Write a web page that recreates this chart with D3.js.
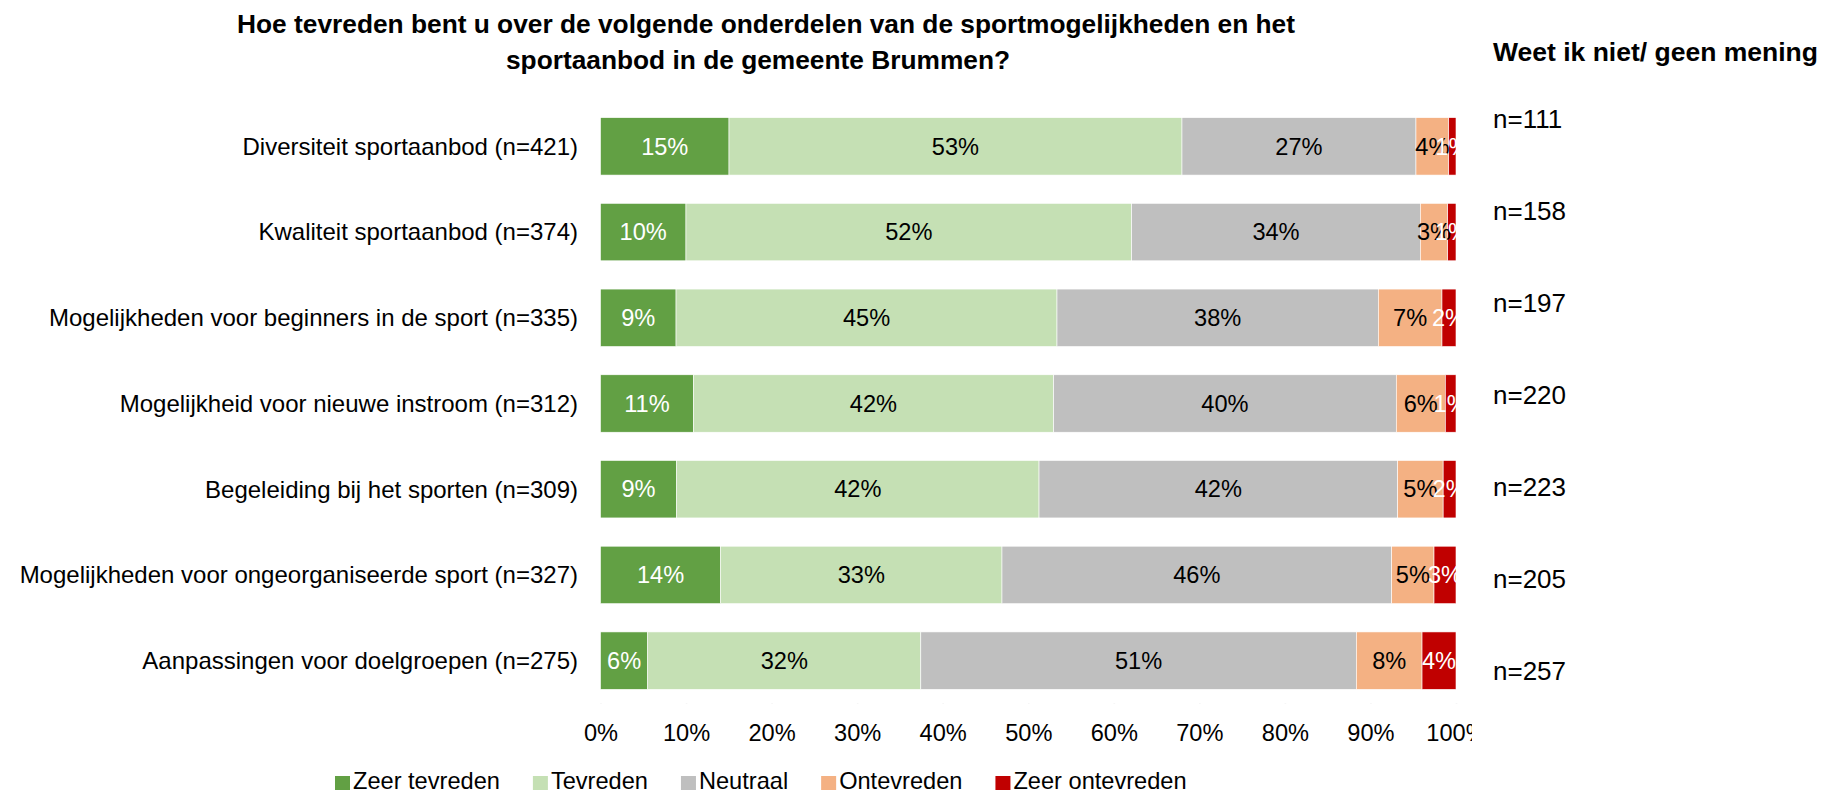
<!DOCTYPE html>
<html>
<head>
<meta charset="utf-8">
<script src="https://cdn.jsdelivr.net/npm/d3@7.9.0/dist/d3.min.js"></script>
<style>
  body { margin: 0; background: #fff; }
  svg { display: block; font-family: Arial, "Liberation Sans", sans-serif; }
</style>
</head>
<body>
<svg id="chart" width="1823" height="793"></svg>
<script>
const categories = [
  'Diversiteit sportaanbod (n=421)',
  'Kwaliteit sportaanbod (n=374)',
  'Mogelijkheden voor beginners in de sport (n=335)',
  'Mogelijkheid voor nieuwe instroom (n=312)',
  'Begeleiding bij het sporten (n=309)',
  'Mogelijkheden voor ongeorganiseerde sport (n=327)',
  'Aanpassingen voor doelgroepen (n=275)'
];
const seriesNames = ['Zeer tevreden', 'Tevreden', 'Neutraal', 'Ontevreden', 'Zeer ontevreden'];
const zeerTevreden = [15.02, 9.99, 8.83, 10.85, 8.9, 14.05, 5.52];
const tevreden = [52.95, 52.1, 44.53, 42.12, 42.36, 32.88, 31.92];
const neutraal = [27.35, 33.74, 37.56, 40.05, 41.92, 45.55, 50.91];
const ontevreden = [3.83, 3.2, 7.44, 5.73, 5.32, 4.95, 7.68];
const zeerOntevreden = [0.85, 0.97, 1.64, 1.25, 1.5, 2.57, 3.97];
const weetNiet = ['n=111', 'n=158', 'n=197', 'n=220', 'n=223', 'n=205', 'n=257'];
const tickValues = [0, 10, 20, 30, 40, 50, 60, 70, 80, 90, 100];

const colors = ['#62a044', '#c5e0b4', '#bfbfbf', '#f4b183', '#c00000'];
const labelColors = ['#fff', '#000', '#000', '#000', '#fff'];

const rows = categories.map((c, i) => ({
  category: c,
  'Zeer tevreden': zeerTevreden[i],
  'Tevreden': tevreden[i],
  'Neutraal': neutraal[i],
  'Ontevreden': ontevreden[i],
  'Zeer ontevreden': zeerOntevreden[i]
}));
const stacked = d3.stack().keys(seriesNames)(rows);

const svg = d3.select('#chart');
const fontSize = 23.6;

const x = d3.scaleLinear().domain([0, 100]).range([600.5, 1456]);
const y = d3.scaleBand().domain(categories).range([103.5, 703.5]).paddingInner(0.33).paddingOuter(0.165);

svg.append('defs').append('clipPath').attr('id', 'plotClip')
  .append('rect').attr('x', 0).attr('y', 0).attr('width', 1457).attr('height', 793);
svg.select('defs').append('clipPath').attr('id', 'axisClip')
  .append('rect').attr('x', 0).attr('y', 0).attr('width', 1472).attr('height', 793);

// grid + tick labels
const axis = svg.append('g')
  .attr('transform', 'translate(0,703.5)')
  .attr('clip-path', 'url(#axisClip)')
  .call(d3.axisBottom(x).tickValues(tickValues).tickFormat((d) => d + '%')
    .tickSizeInner(-600).tickSizeOuter(0).tickPadding(21));
axis.select('.domain').remove();
axis.selectAll('line').attr('stroke', '#d9d9d9').attr('stroke-width', 1.6);
axis.selectAll('text').attr('font-size', fontSize).attr('fill', '#000')
  .attr('font-family', 'Arial, "Liberation Sans", sans-serif');

// bars
const layer = svg.append('g').selectAll('g')
  .data(stacked)
  .join('g')
  .attr('fill', (d, i) => colors[i]);

layer.selectAll('rect')
  .data((d) => d)
  .join('rect')
  .attr('x', (d) => x(d[0]))
  .attr('y', (d) => y(d.data.category))
  .attr('width', (d) => x(d[1]) - x(d[0]))
  .attr('height', y.bandwidth())
  .attr('stroke', '#fff')
  .attr('stroke-width', 0.6);

// bar labels
const labels = svg.append('g').attr('clip-path', 'url(#plotClip)');
stacked.forEach((series, si) => {
  labels.selectAll(null)
    .data(series)
    .join('text')
    .attr('x', (d) => (x(d[0]) + x(d[1])) / 2)
    .attr('y', (d) => y(d.data.category) + y.bandwidth() / 2)
    .attr('dy', '0.35em')
    .attr('text-anchor', 'middle')
    .attr('font-size', fontSize)
    .attr('fill', labelColors[si])
    .text((d) => Math.round(d[1] - d[0]) + '%');
});

// category labels
svg.append('g').selectAll('text')
  .data(categories)
  .join('text')
  .attr('x', 578)
  .attr('y', (d) => y(d) + y.bandwidth() / 2)
  .attr('dy', '0.35em')
  .attr('text-anchor', 'end')
  .attr('font-size', 24)
  .text((d) => d);

// "weet ik niet" column
const nY = d3.scalePoint().domain(d3.range(weetNiet.length)).range([119.3, 670.7]);
svg.append('g').selectAll('text')
  .data(weetNiet)
  .join('text')
  .attr('x', 1493)
  .attr('y', (d, i) => nY(i))
  .attr('dy', '0.35em')
  .attr('font-size', 26)
  .text((d) => d);

svg.append('text')
  .attr('x', 1493).attr('y', 61)
  .attr('font-size', 26.5).attr('font-weight', 'bold')
  .text('Weet ik niet/ geen mening');

// title
const title = svg.append('text')
  .attr('text-anchor', 'middle')
  .attr('font-size', 26.3).attr('font-weight', 'bold');
title.append('tspan').attr('x', 766).attr('y', 33)
  .text('Hoe tevreden bent u over de volgende onderdelen van de sportmogelijkheden en het');
title.append('tspan').attr('x', 758).attr('y', 69)
  .text('sportaanbod in de gemeente Brummen?');

// legend
const legend = svg.append('g');
let lx = 335;
seriesNames.forEach((name, i) => {
  legend.append('rect')
    .attr('x', lx).attr('y', 776).attr('width', 15).attr('height', 14)
    .attr('fill', colors[i]);
  const t = legend.append('text')
    .attr('x', lx + 18).attr('y', 789)
    .attr('font-size', fontSize)
    .text(name);
  lx += 18 + t.node().getComputedTextLength() + 33;
});
</script>
</body>
</html>
